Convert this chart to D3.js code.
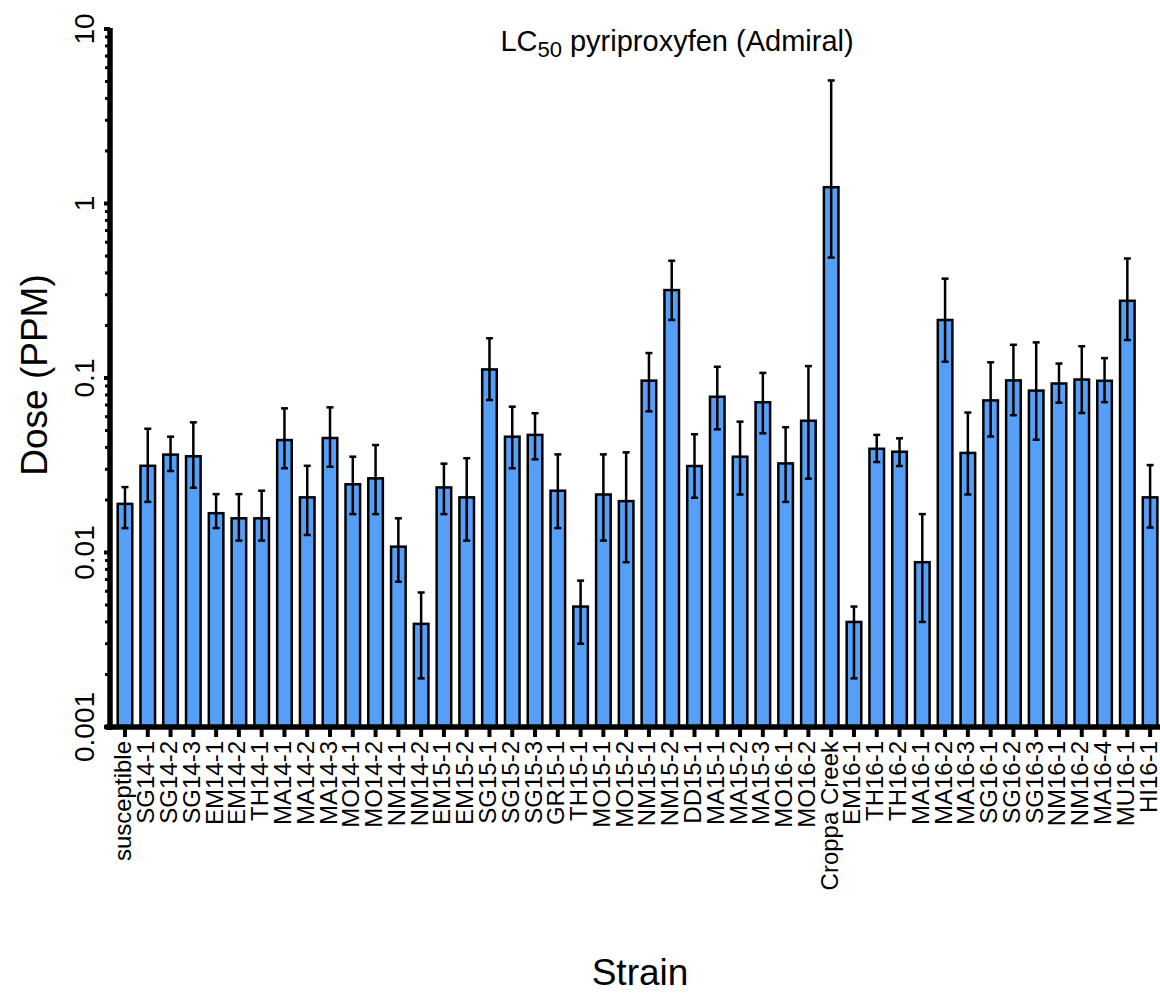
<!DOCTYPE html>
<html>
<head>
<meta charset="utf-8">
<script src="https://cdn.jsdelivr.net/npm/d3@7"></script>
<style>
  body { margin: 0; background: #fff; }
  text { font-family: "Liberation Sans", Arial, sans-serif; fill: #000; }
</style>
</head>
<body>
<div id="container"></div>
<script>
// Strains (x categories)
const strains = ["susceptible", "SG14-1", "SG14-2", "SG14-3", "EM14-1", "EM14-2", "TH14-1",
  "MA14-1", "MA14-2", "MA14-3", "MO14-1", "MO14-2", "NM14-1", "NM14-2", "EM15-1", "EM15-2",
  "SG15-1", "SG15-2", "SG15-3", "GR15-1", "TH15-1", "MO15-1", "MO15-2", "NM15-1", "NM15-2",
  "DD15-1", "MA15-1", "MA15-2", "MA15-3", "MO16-1", "MO16-2", "Croppa Creek", "EM16-1",
  "TH16-1", "TH16-2", "MA16-1", "MA16-2", "MA16-3", "SG16-1", "SG16-2", "SG16-3", "NM16-1",
  "NM16-2", "MA16-4", "MU16-1", "HI16-1"];

// LC50 values (ppm) and confidence limits
const lc50 = [0.019, 0.0314, 0.0364, 0.0356, 0.0168, 0.0157, 0.0157,
  0.0441, 0.0207, 0.0453, 0.0246, 0.0266, 0.0108, 0.0039, 0.0236, 0.0207,
  0.112, 0.0461, 0.0472, 0.0226, 0.0049, 0.0215, 0.0197, 0.0966, 0.319,
  0.0313, 0.0781, 0.0354, 0.0726, 0.0324, 0.0569, 1.24, 0.0040,
  0.0393, 0.0378, 0.0088, 0.215, 0.0372, 0.0744, 0.0969, 0.0847, 0.093,
  0.098, 0.0964, 0.277, 0.0207];
const lower = [0.0138, 0.0195, 0.0293, 0.0235, 0.0138, 0.0117, 0.0117,
  0.0304, 0.0126, 0.031, 0.0166, 0.0166, 0.0068, 0.0019, 0.0166, 0.0117,
  0.0748, 0.0304, 0.0342, 0.0138, 0.0030, 0.0117, 0.0088, 0.0644, 0.215,
  0.0206, 0.0508, 0.0215, 0.0482, 0.0195, 0.0265, 0.49, 0.0019,
  0.033, 0.0313, 0.0040, 0.124, 0.0215, 0.0462, 0.0612, 0.0443, 0.0722,
  0.063, 0.0727, 0.165, 0.0139];
const upper = [0.0237, 0.0512, 0.0461, 0.0557, 0.0216, 0.0216, 0.0226,
  0.067, 0.0314, 0.0679, 0.0354, 0.0413, 0.0157, 0.0059, 0.0323, 0.0347,
  0.169, 0.0685, 0.0628, 0.0365, 0.0069, 0.0365, 0.0375, 0.139, 0.47,
  0.0476, 0.116, 0.0562, 0.107, 0.0522, 0.117, 5.07, 0.0049,
  0.0472, 0.0451, 0.0166, 0.371, 0.0634, 0.123, 0.155, 0.16, 0.121,
  0.152, 0.130, 0.484, 0.0317];

const yTicks = [10, 1, 0.1, 0.01, 0.001];
const yTickLabels = ["10", "1", "0.1", "0.01", "0.001"];

const data = strains.map((s, i) => ({ strain: s, v: lc50[i], lo: lower[i], hi: upper[i] }));

const W = 1160, H = 994;
const svg = d3.select("#container").append("svg")
  .attr("width", W).attr("height", H);

// Scales
const x = d3.scaleBand()
  .domain(strains)
  .range([113.6, 1161.5])
  .paddingInner(0.36)
  .paddingOuter(0.18);

const y = d3.scaleLog()
  .domain([0.001, 10])
  .range([727, 29]);

const barColor = "#569ff7";

// Bars
svg.append("g").selectAll("rect")
  .data(data)
  .enter().append("rect")
  .attr("x", d => x(d.strain))
  .attr("width", x.bandwidth())
  .attr("y", d => y(d.v))
  .attr("height", d => y(0.001) - y(d.v))
  .attr("fill", barColor)
  .attr("stroke", "#000")
  .attr("stroke-width", 2.5);

// Error bars
const err = svg.append("g").attr("stroke", "#000").attr("stroke-width", 2.5);
data.forEach(d => {
  const cx = x(d.strain) + x.bandwidth() / 2;
  err.append("line").attr("x1", cx).attr("x2", cx).attr("y1", y(d.lo)).attr("y2", y(d.hi));
  err.append("line").attr("x1", cx - 3.5).attr("x2", cx + 3.5).attr("y1", y(d.lo)).attr("y2", y(d.lo));
  err.append("line").attr("x1", cx - 3.5).attr("x2", cx + 3.5).attr("y1", y(d.hi)).attr("y2", y(d.hi));
});

// Y axis (log, with minor ticks)
const minor = [];
for (let e = -3; e < 1; e++) {
  for (let m = 2; m <= 9; m++) minor.push(m * Math.pow(10, e));
}
const yAxisG = svg.append("g").attr("transform", "translate(110,0)");
yAxisG.append("line")
  .attr("x1", 0).attr("x2", 0).attr("y1", y(10) - 1).attr("y2", y(0.001) + 3)
  .attr("stroke", "#000").attr("stroke-width", 5.5);
yAxisG.selectAll(".minor").data(minor).enter().append("line")
  .attr("x1", -5).attr("x2", 0)
  .attr("y1", d => y(d)).attr("y2", d => y(d))
  .attr("stroke", "#000").attr("stroke-width", 3);
yAxisG.selectAll(".major").data(yTicks).enter().append("line")
  .attr("x1", -6).attr("x2", 0)
  .attr("y1", d => y(d)).attr("y2", d => y(d))
  .attr("stroke", "#000").attr("stroke-width", 4);
yAxisG.selectAll("text").data(yTicks).enter().append("text")
  .attr("transform", d => `translate(-16,${y(d)}) rotate(-90)`)
  .attr("text-anchor", "middle")
  .style("font-size", "28px")
  .text((d, i) => yTickLabels[i]);

// X axis
const xAxisG = svg.append("g");
xAxisG.append("line")
  .attr("x1", 105).attr("x2", 1160).attr("y1", 727).attr("y2", 727)
  .attr("stroke", "#000").attr("stroke-width", 5.5);
xAxisG.selectAll(".tick").data(strains).enter().append("line")
  .attr("x1", d => x(d) + x.bandwidth() / 2).attr("x2", d => x(d) + x.bandwidth() / 2)
  .attr("y1", 727).attr("y2", 737)
  .attr("stroke", "#000").attr("stroke-width", 4);
xAxisG.selectAll("text").data(strains).enter().append("text")
  .attr("transform", d => `translate(${x(d) + x.bandwidth() / 2 + 6.5},741) rotate(-90)`)
  .attr("text-anchor", "end")
  .style("font-size", "24px")
  .text(d => d);

// Title
const title = svg.append("text")
  .attr("x", 677).attr("y", 51)
  .attr("text-anchor", "middle")
  .style("font-size", "29px");
title.append("tspan").text("LC");
title.append("tspan").attr("dy", 6).style("font-size", "22px").text("50");
title.append("tspan").attr("dy", -6).text(" pyriproxyfen (Admiral)");

// Axis titles
svg.append("text")
  .attr("transform", "translate(47,375) rotate(-90)")
  .attr("text-anchor", "middle")
  .style("font-size", "37px")
  .text("Dose (PPM)");

svg.append("text")
  .attr("x", 640).attr("y", 985)
  .attr("text-anchor", "middle")
  .style("font-size", "37px")
  .text("Strain");
</script>
</body>
</html>
